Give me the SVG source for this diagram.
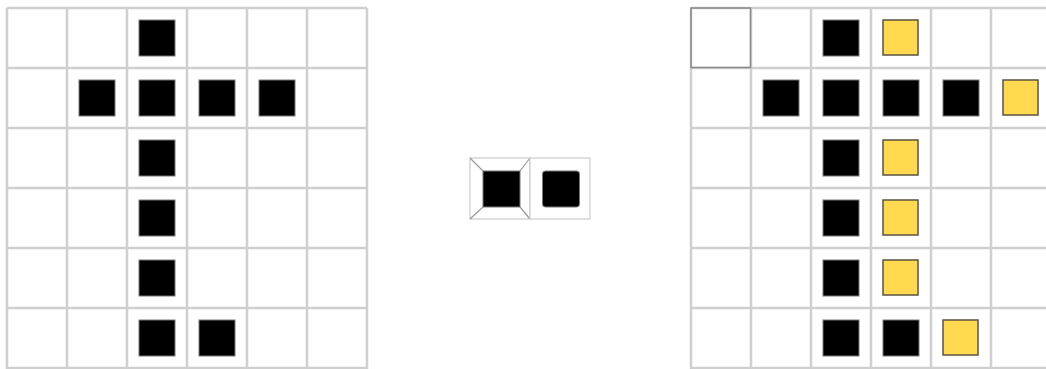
<svg xmlns="http://www.w3.org/2000/svg" width="1046" height="369" viewBox="0 0 1046 369">
<style>
.grid line{stroke:#cfcfcf;stroke-width:2.5}
.blk{fill:#000;stroke:#777;stroke-width:1}
.yel{fill:#ffd94f;stroke:#5a5440;stroke-width:1.5}
.cell{fill:#fff;stroke:#cccccc;stroke-width:1.2}
.bev{stroke:#9a9a9a;stroke-width:1.2}
</style>
<rect width="1046" height="369" fill="#fff"/>
<g id="left-grid" class="grid">
<line x1="7" y1="8" x2="7" y2="369"/><line x1="67" y1="8" x2="67" y2="369"/><line x1="127" y1="8" x2="127" y2="369"/><line x1="187" y1="8" x2="187" y2="369"/><line x1="247" y1="8" x2="247" y2="369"/><line x1="307" y1="8" x2="307" y2="369"/><line x1="367" y1="8" x2="367" y2="369"/>
<line x1="7" y1="8" x2="367" y2="8"/><line x1="7" y1="68" x2="367" y2="68"/><line x1="7" y1="128" x2="367" y2="128"/><line x1="7" y1="188" x2="367" y2="188"/><line x1="7" y1="248" x2="367" y2="248"/><line x1="7" y1="308" x2="367" y2="308"/><line x1="7" y1="368" x2="367" y2="368"/>
</g>
<g id="left-blocks">
<rect class="blk" x="139" y="20" width="36" height="36"/>
<rect class="blk" x="79" y="80" width="36" height="36"/>
<rect class="blk" x="139" y="80" width="36" height="36"/>
<rect class="blk" x="199" y="80" width="36" height="36"/>
<rect class="blk" x="259" y="80" width="36" height="36"/>
<rect class="blk" x="139" y="140" width="36" height="36"/>
<rect class="blk" x="139" y="200" width="36" height="36"/>
<rect class="blk" x="139" y="260" width="36" height="36"/>
<rect class="blk" x="139" y="320" width="36" height="36"/>
<rect class="blk" x="199" y="320" width="36" height="36"/>
</g>
<g id="bevel-tile">
<rect class="cell" x="470" y="158" width="60" height="61"/>
<line class="bev" x1="470" y1="158" x2="483" y2="171"/>
<line class="bev" x1="530" y1="158" x2="520" y2="171"/>
<line class="bev" x1="470" y1="219" x2="483" y2="207"/>
<line class="bev" x1="530" y1="219" x2="520" y2="207"/>
<rect class="blk" x="483" y="171" width="37" height="36"/>
</g>
<g id="plain-tile">
<rect class="cell" x="530" y="158" width="60" height="61"/>
<rect class="blk" x="542.5" y="171" width="37" height="36" rx="3"/>
</g>
<g id="right-grid" class="grid">
<line x1="691" y1="8" x2="691" y2="369"/><line x1="751" y1="8" x2="751" y2="369"/><line x1="811" y1="8" x2="811" y2="369"/><line x1="871" y1="8" x2="871" y2="369"/><line x1="931" y1="8" x2="931" y2="369"/><line x1="991" y1="8" x2="991" y2="369"/>
<line x1="691" y1="8" x2="1046" y2="8"/><line x1="691" y1="68" x2="1046" y2="68"/><line x1="691" y1="128" x2="1046" y2="128"/><line x1="691" y1="188" x2="1046" y2="188"/><line x1="691" y1="248" x2="1046" y2="248"/><line x1="691" y1="308" x2="1046" y2="308"/><line x1="691" y1="368" x2="1046" y2="368"/>
</g>
<g id="start-cell">
<rect x="691" y="8" width="59.5" height="59.5" fill="none" stroke="#8a8a8a" stroke-width="1.5"/>
</g>
<g id="right-blocks">
<rect class="blk" x="823" y="20" width="36" height="36"/>
<rect class="blk" x="763" y="80" width="36" height="36"/>
<rect class="blk" x="823" y="80" width="36" height="36"/>
<rect class="blk" x="883" y="80" width="36" height="36"/>
<rect class="blk" x="943" y="80" width="36" height="36"/>
<rect class="blk" x="823" y="140" width="36" height="36"/>
<rect class="blk" x="823" y="200" width="36" height="36"/>
<rect class="blk" x="823" y="260" width="36" height="36"/>
<rect class="blk" x="823" y="320" width="36" height="36"/>
<rect class="blk" x="883" y="320" width="36" height="36"/>
</g>
<g id="right-yellow">
<rect class="yel" x="883" y="20" width="35" height="35"/>
<rect class="yel" x="1003" y="80" width="35" height="35"/>
<rect class="yel" x="883" y="140" width="35" height="35"/>
<rect class="yel" x="883" y="200" width="35" height="35"/>
<rect class="yel" x="883" y="260" width="35" height="35"/>
<rect class="yel" x="943" y="320" width="35" height="35"/>
</g>
</svg>
